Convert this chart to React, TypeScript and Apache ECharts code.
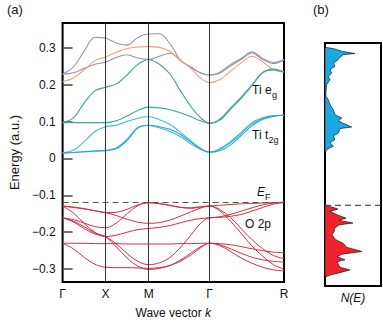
import React, { useEffect, useRef } from "react";
import * as echarts from "echarts";

// High-symmetry path
const kPoints = [0, 1, 2, 3.414, 5.146];
const kLabels = ["Γ", "X", "M", "Γ", "R"];
const energyTicks = [-0.3, -0.2, -0.1, 0, 0.1, 0.2, 0.3];
const fermiLevel = -0.12;

// k sampling along the path
const kGrid = [0, 0.25, 0.5, 0.75, 1, 1.25, 1.5, 1.75, 2, 2.25, 2.5, 2.75, 3, 3.2, 3.414, 3.65, 3.9, 4.15, 4.4, 4.65, 4.9, 5.146];

// Ti d bands (eg / t2g)
const bandG1 = [0.228, 0.248, 0.29, 0.328, 0.326, 0.313, 0.307, 0.328, 0.337, 0.338, 0.31, 0.265, 0.247, 0.232, 0.226, 0.233, 0.254, 0.271, 0.289, 0.271, 0.26, 0.268];
const bandG2 = [0.228, 0.232, 0.244, 0.255, 0.261, 0.274, 0.281, 0.272, 0.268, 0.277, 0.285, 0.264, 0.245, 0.232, 0.226, 0.231, 0.25, 0.268, 0.286, 0.268, 0.257, 0.266];
const bandO1 = [0.208, 0.218, 0.24, 0.265, 0.275, 0.288, 0.298, 0.302, 0.303, 0.301, 0.29, 0.265, 0.242, 0.218, 0.205, 0.213, 0.236, 0.259, 0.277, 0.262, 0.24, 0.234];
const bandU3 = [0.097, 0.11, 0.15, 0.183, 0.193, 0.202, 0.226, 0.255, 0.268, 0.255, 0.228, 0.181, 0.138, 0.111, 0.095, 0.103, 0.133, 0.163, 0.197, 0.232, 0.242, 0.234];
const bandT1 = [0.097, 0.097, 0.097, 0.097, 0.097, 0.102, 0.115, 0.13, 0.139, 0.137, 0.132, 0.123, 0.112, 0.102, 0.095, 0.106, 0.136, 0.166, 0.199, 0.233, 0.24, 0.234];
const bandC1 = [0.015, 0.022, 0.045, 0.073, 0.086, 0.09, 0.1, 0.109, 0.113, 0.105, 0.092, 0.07, 0.045, 0.028, 0.017, 0.026, 0.045, 0.07, 0.097, 0.11, 0.116, 0.117];
const bandC2 = [0.015, 0.016, 0.018, 0.02, 0.021, 0.026, 0.048, 0.082, 0.089, 0.083, 0.073, 0.058, 0.038, 0.025, 0.017, 0.024, 0.042, 0.068, 0.093, 0.108, 0.115, 0.117];
const bandC3 = [0.015, 0.016, 0.018, 0.02, 0.022, 0.028, 0.052, 0.084, 0.09, 0.086, 0.079, 0.064, 0.043, 0.027, 0.017, 0.021, 0.036, 0.062, 0.088, 0.106, 0.114, 0.117];

// O 2p bands
const bandB1 = [-0.129, -0.133, -0.137, -0.142, -0.147, -0.155, -0.165, -0.173, -0.176, -0.174, -0.167, -0.156, -0.144, -0.135, -0.129, -0.138, -0.16, -0.19, -0.22, -0.245, -0.263, -0.272];
const bandB2 = [-0.129, -0.148, -0.176, -0.2, -0.212, -0.208, -0.2, -0.193, -0.19, -0.187, -0.182, -0.174, -0.167, -0.163, -0.161, -0.158, -0.152, -0.143, -0.134, -0.126, -0.121, -0.119];
const bandB3 = [-0.161, -0.166, -0.175, -0.185, -0.188, -0.175, -0.15, -0.128, -0.12, -0.122, -0.127, -0.133, -0.135, -0.132, -0.129, -0.127, -0.125, -0.123, -0.122, -0.121, -0.12, -0.119];
const bandB4 = [-0.161, -0.17, -0.185, -0.202, -0.212, -0.232, -0.258, -0.279, -0.288, -0.283, -0.268, -0.24, -0.205, -0.177, -0.161, -0.16, -0.157, -0.152, -0.143, -0.133, -0.124, -0.12];
const bandB5 = [-0.23, -0.23, -0.23, -0.231, -0.231, -0.231, -0.232, -0.232, -0.232, -0.232, -0.232, -0.231, -0.231, -0.23, -0.23, -0.231, -0.234, -0.239, -0.245, -0.25, -0.254, -0.256];
const bandB6 = [-0.23, -0.245, -0.268, -0.287, -0.295, -0.296, -0.296, -0.297, -0.298, -0.296, -0.29, -0.278, -0.26, -0.243, -0.23, -0.236, -0.252, -0.27, -0.284, -0.295, -0.302, -0.305];
const bandB7 = [-0.161, -0.172, -0.19, -0.205, -0.213, -0.24, -0.27, -0.292, -0.301, -0.298, -0.29, -0.275, -0.255, -0.24, -0.23, -0.234, -0.245, -0.257, -0.268, -0.275, -0.279, -0.281];
const bandB8 = [-0.129, -0.132, -0.136, -0.142, -0.147, -0.146, -0.138, -0.126, -0.12, -0.123, -0.128, -0.133, -0.134, -0.131, -0.129, -0.142, -0.17, -0.203, -0.237, -0.265, -0.288, -0.3];

// DOS (panel b)
const dosTiE = [0.302, 0.297, 0.291, 0.285, 0.282, 0.275, 0.265, 0.26, 0.251, 0.242, 0.233, 0.224, 0.215, 0.202, 0.184, 0.171, 0.162, 0.149, 0.135, 0.122, 0.113, 0.105, 0.089, 0.085, 0.073, 0.065, 0.056, 0.047, 0.038, 0.029, 0.02];
const dosTiN = [0, 10, 16.7, 30, 18.3, 15, 11.7, 8.3, 10, 5, 6.7, 3.3, 5, 1.7, 1, 1, 3.3, 5, 8.3, 10, 16.7, 13.3, 26.7, 15, 13.3, 8.3, 10, 5, 8.3, 1.7, 0];
const dosOE = [-0.121, -0.125, -0.13, -0.136, -0.145, -0.154, -0.16, -0.167, -0.172, -0.18, -0.19, -0.199, -0.212, -0.221, -0.232, -0.243, -0.25, -0.257, -0.265, -0.27, -0.276, -0.285, -0.292, -0.3, -0.305, -0.31];
const dosON = [0, 8, 13, 5, 12, 21, 14, 28, 14, 10, 9, 7, 11, 18, 22, 37, 17, 12, 20, 12, 13, 15, 25, 14, 6, 1];

const FONT = "Liberation Sans, Arial, Helvetica, sans-serif";

const tiBands: [number[], string][] = [
  [bandG1, "#9a94aa"],
  [bandG2, "#9a94aa"],
  [bandO1, "#e6a47e"],
  [bandU3, "#3f9f8e"],
  [bandT1, "#3aa9a6"],
  [bandC1, "#3fbcd2"],
  [bandC2, "#35b6d4"],
  [bandC3, "#2aa9d0"],
];
const oBands: number[][] = [bandB1, bandB2, bandB3, bandB4, bandB5, bandB6, bandB7, bandB8];

function dosPolygon(es: number[], ns: number[], fill: string) {
  return {
    type: "custom",
    xAxisIndex: 1,
    yAxisIndex: 1,
    silent: true,
    data: ns.map((n, i) => [n, es[i]]),
    renderItem: (params: any, api: any) => {
      if (params.dataIndex !== 0) return null;
      const pts = [api.coord([0, es[0]])];
      es.forEach((e, i) => pts.push(api.coord([ns[i], e])));
      pts.push(api.coord([0, es[es.length - 1]]));
      return {
        type: "polygon",
        shape: { points: pts },
        style: { fill, stroke: "#1a1a1a", lineWidth: 0.7 },
      };
    },
  };
}

export default function App() {
  const ref = useRef<HTMLDivElement>(null);
  useEffect(() => {
    if (!ref.current) return;
    const chart = echarts.init(ref.current, undefined, { renderer: "svg" });
    const series: any[] = [];
    tiBands.forEach(([vals, color], idx) => {
      series.push({
        type: "line",
        xAxisIndex: 0,
        yAxisIndex: 0,
        data: kGrid.map((k, i) => [k, vals[i]]),
        showSymbol: false,
        smooth: 0.35,
        silent: true,
        lineStyle: { color, width: 1.1 },
        z: 3,
        ...(idx === 0
          ? {
              markLine: {
                silent: true,
                symbol: ["none", "none"],
                label: { show: false },
                lineStyle: { color: "#333", width: 1, type: "solid" },
                data: kPoints.slice(1, 4).map((k) => ({ xAxis: k })),
              },
            }
          : {}),
      });
    });
    oBands.forEach((vals, idx) => {
      series.push({
        type: "line",
        xAxisIndex: 0,
        yAxisIndex: 0,
        data: kGrid.map((k, i) => [k, vals[i]]),
        showSymbol: false,
        smooth: 0.35,
        silent: true,
        lineStyle: { color: "#d12e40", width: 1 },
        z: 3,
        ...(idx === 0
          ? {
              markLine: {
                silent: true,
                symbol: ["none", "none"],
                label: { show: false },
                lineStyle: { color: "#555", width: 1.2, type: [6, 4] },
                data: [{ yAxis: fermiLevel }],
              },
            }
          : {}),
      });
    });
    series.push(dosPolygon(dosTiE, dosTiN, "#1ba8e2"));
    series.push(dosPolygon(dosOE, dosON, "#f0222c"));
    series.push({
      type: "line",
      xAxisIndex: 1,
      yAxisIndex: 1,
      data: [[0, fermiLevel], [56, fermiLevel]],
      showSymbol: false,
      silent: true,
      lineStyle: { color: "#555", width: 1.2, type: [6, 4] },
    });

    const sub = (text: string, x: number, y: number, size = 12, italic = false) => ({
      type: "text",
      silent: true,
      style: {
        text,
        x,
        y,
        textAlign: "left",
        textVerticalAlign: "bottom",
        font: `${italic ? "italic " : ""}${size}px ${FONT}`,
        fill: "#111",
      },
    });

    chart.setOption({
      animation: false,
      backgroundColor: "#fff",
      grid: [
        { left: 45, top: 23, width: 239, height: 263, show: true, borderColor: "#000", borderWidth: 2, backgroundColor: "transparent" },
        { left: 325, top: 43, width: 56, height: 243, show: true, borderColor: "#000", borderWidth: 2, backgroundColor: "transparent" },
      ],
      xAxis: [
        {
          type: "value",
          gridIndex: 0,
          min: 0,
          max: 5.146,
          axisLine: { show: false },
          axisTick: { show: false },
          splitLine: { show: false },
          axisLabel: {
            customValues: kPoints,
            formatter: (v: number) => {
              const i = kPoints.findIndex((k) => Math.abs(k - v) < 1e-6);
              return i >= 0 ? kLabels[i] : "";
            },
            fontSize: 12,
            fontFamily: FONT,
            color: "#111",
            margin: 6,
          },
          name: "{a|Wave vector }{b|k}",
          nameLocation: "middle",
          nameGap: 25,
          nameTextStyle: {
            rich: {
              a: { fontSize: 12, fontFamily: FONT, color: "#111" },
              b: { fontSize: 12, fontFamily: FONT, color: "#111", fontStyle: "italic" },
            },
          },
        },
        {
          type: "value",
          gridIndex: 1,
          min: 0,
          max: 56,
          axisLine: { show: false },
          axisTick: { show: false },
          axisLabel: { show: false },
          splitLine: { show: false },
          name: "N(E)",
          nameLocation: "middle",
          nameGap: 6,
          nameTextStyle: { fontSize: 12, fontFamily: FONT, color: "#111", fontStyle: "italic", verticalAlign: "top" },
        },
      ],
      yAxis: [
        {
          type: "value",
          gridIndex: 0,
          min: -0.335,
          max: 0.367,
          axisLine: { show: false },
          splitLine: { show: false },
          axisTick: {
            show: true,
            inside: true,
            length: 10,
            customValues: energyTicks,
            lineStyle: { color: "#444", width: 1.5 },
          },
          axisLabel: {
            customValues: energyTicks,
            formatter: (v: number) => {
              const r = Math.round(v * 10) / 10;
              if (Math.abs(r) < 1e-9) return "0";
              return r < 0 ? "\u2212" + Math.abs(r).toFixed(1) : r.toFixed(1);
            },
            fontSize: 12,
            fontFamily: FONT,
            color: "#111",
            margin: 7,
          },
          name: "Energy (a.u.)",
          nameLocation: "middle",
          nameGap: 30,
          nameTextStyle: { fontSize: 13, fontFamily: FONT, color: "#111" },
        },
        {
          type: "value",
          gridIndex: 1,
          min: -0.335,
          max: 0.313,
          show: false,
        },
      ],
      graphic: [
        sub("(a)", 7, 16, 13),
        sub("(b)", 313, 16, 13),
        sub("Ti e", 252, 96),
        sub("g", 272, 99, 9),
        sub("Ti t", 252, 141),
        sub("2g", 268.5, 144, 9),
        sub("E", 257, 198, 12, true),
        sub("F", 265, 201, 9),
        sub("O 2p", 245, 230),
      ],
      series,
    });
    return () => chart.dispose();
  }, []);
  return <div ref={ref} style={{ position: "fixed", left: 0, top: 0, width: 383, height: 324 }} />;
}
